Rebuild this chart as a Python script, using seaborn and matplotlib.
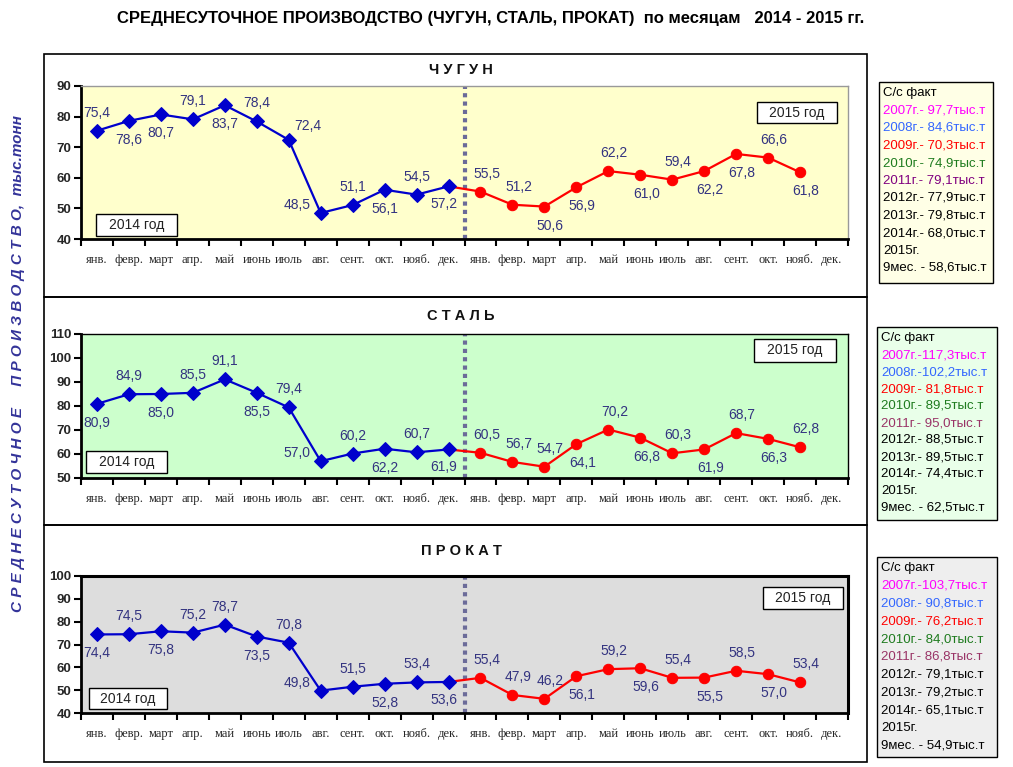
import numpy as np
import pandas as pd
import matplotlib
matplotlib.use('Agg')
import matplotlib.pyplot as plt
import seaborn as sns
from matplotlib.patches import Rectangle

# ---------------- data ----------------
months = ['янв.', 'февр.', 'март', 'апр.', 'май', 'июнь', 'июль', 'авг.',
          'сент.', 'окт.', 'нояб.', 'дек.']

chugun_2014 = [75.4, 78.6, 80.7, 79.1, 83.7, 78.4, 72.4, 48.5, 51.1, 56.1, 54.5, 57.2]
chugun_2015 = [55.5, 51.2, 50.6, 56.9, 62.2, 61.0, 59.4, 62.2, 67.8, 66.6, 61.8]

stal_2014 = [80.9, 84.9, 85.0, 85.5, 91.1, 85.5, 79.4, 57.0, 60.2, 62.2, 60.7, 61.9]
stal_2015 = [60.5, 56.7, 54.7, 64.1, 70.2, 66.8, 60.3, 61.9, 68.7, 66.3, 62.8]

prokat_2014 = [74.4, 74.5, 75.8, 75.2, 78.7, 73.5, 70.8, 49.8, 51.5, 52.8, 53.4, 53.6]
prokat_2015 = [55.4, 47.9, 46.2, 56.1, 59.2, 59.6, 55.4, 55.5, 58.5, 57.0, 53.4]

# label placement: a=above, b=below, l=left, ar=above-right, bl=below-left
chugun_pos14 = ['a', 'b', 'b', 'a', 'b', 'a', 'ar', 'l', 'a', 'b', 'a', 'bl']
chugun_pos15 = ['a', 'a', 'b', 'b', 'a', 'b', 'a', 'b', 'b', 'a', 'b']
stal_pos14 = ['b', 'a', 'b', 'a', 'a', 'b', 'a', 'l', 'a', 'b', 'a', 'bl']
stal_pos15 = ['a', 'a', 'a', 'b', 'a', 'b', 'a', 'b', 'a', 'b', 'a']
prokat_pos14 = ['b', 'a', 'b', 'a', 'a', 'b', 'a', 'l', 'a', 'b', 'a', 'bl']
prokat_pos15 = ['a', 'a', 'a', 'b', 'a', 'b', 'a', 'b', 'a', 'b', 'a']

legend_years = ['2007г.-', '2008г.-', '2009г.-', '2010г.-', '2011г.-',
                '2012г.-', '2013г.-', '2014г.-']
chugun_fact = ['97,7', '84,6', '70,3', '74,9', '79,1', '77,9', '79,8', '68,0']
stal_fact = ['117,3', '102,2', '81,8', '89,5', '95,0', '88,5', '89,5', '74,4']
prokat_fact = ['103,7', '90,8', '76,2', '84,0', '86,8', '79,1', '79,2', '65,1']
chugun_9m = '58,6'
stal_9m = '62,5'
prokat_9m = '54,9'

# ---------------- style ----------------
sns.set_style('white')
plt.rcParams['font.family'] = ['Liberation Sans', 'DejaVu Sans']

W, H = 1013, 767
fig = plt.figure(figsize=(W / 100, H / 100), dpi=100)
fig.patch.set_facecolor('white')

def fx(x):
    return x / W

def fy(y):
    return 1 - y / H

def rect_axes(x0, y0, x1, y1):
    return [fx(x0), fy(y1), fx(x1 - x0), (y1 - y0) / H]

LABEL_C = '#333380'
BLUE = '#0000CC'
RED = '#FF0000'
OFFS = {'a': (0, 18), 'b': (0, -19), 'l': (-24, 8), 'ar': (19, 14), 'bl': (-5, -18)}

fig.text(fx(491), fy(18), 'СРЕДНЕСУТОЧНОЕ ПРОИЗВОДСТВО (ЧУГУН, СТАЛЬ, ПРОКАТ)  по месяцам   2014 - 2015 гг.',
         ha='center', va='center', fontsize=12, fontweight='bold', color='black')

fig.text(fx(18), fy(363), 'С Р Е Д Н Е С У Т О Ч Н О Е     П Р О И З В О Д С Т В О,  тыс.тонн',
         rotation=90, ha='center', va='center', fontsize=11, fontstyle='italic',
         color='#333399', fontweight='bold')

leg_colors = ['#FF00FF', '#3366FF', '#FF0000', '#1E7B1E', '#993366',
              'black', 'black', 'black']


def panel(box, plot, title, title_y, y14, y15, pos14, pos15, ylim, ystep, bg,
          spine_c, box14, box15, legbox, legbg, fact, nine, c2011, line_h):
    # outer panel box
    fig.patches.append(Rectangle((fx(box[0]), fy(box[3])), fx(box[2] - box[0]),
                                 (box[3] - box[1]) / H, transform=fig.transFigure,
                                 fill=False, edgecolor='black', lw=1.2))
    fig.text(fx(461), fy(title_y), title, ha='center', va='center',
             fontsize=10.5, fontweight='bold', color='#111111')

    ax = fig.add_axes(rect_axes(*plot))
    ax.set_facecolor(bg)
    x14 = np.arange(12) + 0.5
    x15 = np.arange(12, 12 + len(y15)) + 0.5

    # red 2015 line (connected from Dec 2014)
    df15 = pd.DataFrame({'x': np.concatenate([[x14[-1]], x15]),
                         'y': [y14[-1]] + list(y15)})
    sns.lineplot(data=df15, x='x', y='y', ax=ax, color=RED, lw=1.6,
                 sort=False, estimator=None, marker='o', markersize=7.5,
                 markeredgecolor=RED, markerfacecolor=RED,
                 markevery=list(range(1, len(df15))))
    df14 = pd.DataFrame({'x': x14, 'y': y14})
    sns.lineplot(data=df14, x='x', y='y', ax=ax, color=BLUE, lw=1.6,
                 sort=False, estimator=None, marker='D', markersize=7.5,
                 markeredgecolor=BLUE, markerfacecolor=BLUE)

    ax.axvline(12, color='#6B6B99', lw=3, ls=(0, (1, 1)), zorder=1)

    for xv, yv, p in zip(x14, y14, pos14):
        dx, dy = OFFS[p]
        ax.annotate(f'{yv:.1f}'.replace('.', ','), (xv, yv), xytext=(dx, dy),
                    textcoords='offset pixels', ha='center', va='center',
                    fontsize=10, color=LABEL_C)
    for xv, yv, p in zip(x15, y15, pos15):
        dx, dy = OFFS[p]
        ax.annotate(f'{yv:.1f}'.replace('.', ','), (xv, yv), xytext=(dx + 6, dy),
                    textcoords='offset pixels', ha='center', va='center',
                    fontsize=10, color=LABEL_C)

    ax.set_xlim(0, 24)
    ax.set_ylim(*ylim)
    ax.set_yticks(np.arange(ylim[0], ylim[1] + 1, ystep))
    ax.set_yticklabels([str(int(v)) for v in np.arange(ylim[0], ylim[1] + 1, ystep)],
                       fontsize=9.5, fontweight='bold')
    ax.set_xticks(np.arange(0, 25))
    ax.set_xticklabels([])
    ax.set_xticks(np.arange(24) + 0.5, minor=True)
    ax.set_xticklabels(months + months, minor=True, fontsize=9,
                       family=['Liberation Serif', 'DejaVu Serif'])
    ax.tick_params(axis='x', which='major', length=5, width=1.5, direction='out',
                   color='black', bottom=True)
    ax.tick_params(axis='x', which='minor', length=0, pad=11, bottom=True)
    ax.tick_params(axis='y', which='major', length=5, width=1.5, direction='out',
                   color='black', left=True, pad=2)
    ax.set_xlabel('')
    ax.set_ylabel('')
    for s in ['left', 'bottom']:
        ax.spines[s].set_color('black')
        ax.spines[s].set_linewidth(2)
    for s in ['top', 'right']:
        ax.spines[s].set_color(spine_c[0])
        ax.spines[s].set_linewidth(spine_c[1])
    ax.grid(False)

    # year boxes
    for (bx0, by0, bx1, by1), txt in [(box14, '2014 год'), (box15, '2015 год')]:
        fig.patches.append(Rectangle((fx(bx0), fy(by1)), fx(bx1 - bx0), (by1 - by0) / H,
                                     transform=fig.transFigure, facecolor='white',
                                     edgecolor='black', lw=1, zorder=5))
        fig.text(fx((bx0 + bx1) / 2), fy((by0 + by1) / 2), txt, ha='center',
                 va='center', fontsize=10, color='#222222', zorder=6)

    # legend box
    lx0, ly0, lx1, ly1 = legbox
    fig.patches.append(Rectangle((fx(lx0), fy(ly1)), fx(lx1 - lx0), (ly1 - ly0) / H,
                                 transform=fig.transFigure, facecolor=legbg,
                                 edgecolor='black', lw=1))
    ty = ly0 + 11
    fig.text(fx(lx0 + 4), fy(ty), 'С/с факт', ha='left', va='center',
             fontsize=9.5, color='black')
    cols = list(leg_colors)
    cols[4] = c2011
    for yr, v, c in zip(legend_years, fact, cols):
        ty += line_h
        sep = '' if len(v) > 4 else ' '
        fig.text(fx(lx0 + 4), fy(ty), f'{yr}{sep}{v}тыс.т', ha='left', va='center',
                 fontsize=9.5, color=c)
    ty += line_h
    fig.text(fx(lx0 + 4), fy(ty), '2015г.', ha='left', va='center', fontsize=9.5,
             color='black')
    ty += line_h
    fig.text(fx(lx0 + 4), fy(ty), f'9мес. - {nine}тыс.т', ha='left', va='center',
             fontsize=9.5, color='black')
    return ax


panel((44, 54, 867, 297), (81, 86, 848, 239), 'Ч У Г У Н', 70,
      chugun_2014, chugun_2015, chugun_pos14, chugun_pos15, (40, 90), 10,
      '#FFFFCC', ('#999999', 1), (96, 214, 177, 236), (757, 102, 837, 123),
      (879, 82, 993, 283), '#FFFFE6', chugun_fact, chugun_9m, '#800080', 17.5)

panel((44, 297, 867, 525), (81, 334, 848, 478), 'С Т А Л Ь', 316,
      stal_2014, stal_2015, stal_pos14, stal_pos15, (50, 110), 10,
      '#CCFFCC', ('black', 1), (86, 451, 167, 473), (754, 339, 836, 362),
      (877, 327, 997, 520), '#E9FFE9', stal_fact, stal_9m, '#993366', 17)

panel((44, 525, 867, 762), (81, 576, 848, 713), 'П Р О К А Т', 551,
      prokat_2014, prokat_2015, prokat_pos14, prokat_pos15, (40, 100), 10,
      '#DDDDDD', ('black', 2.2), (89, 688, 167, 709), (763, 587, 843, 609),
      (877, 557, 997, 757), '#EEEEEE', prokat_fact, prokat_9m, '#993366', 17.8)

fig.savefig('out.png', dpi=100, facecolor='white')
